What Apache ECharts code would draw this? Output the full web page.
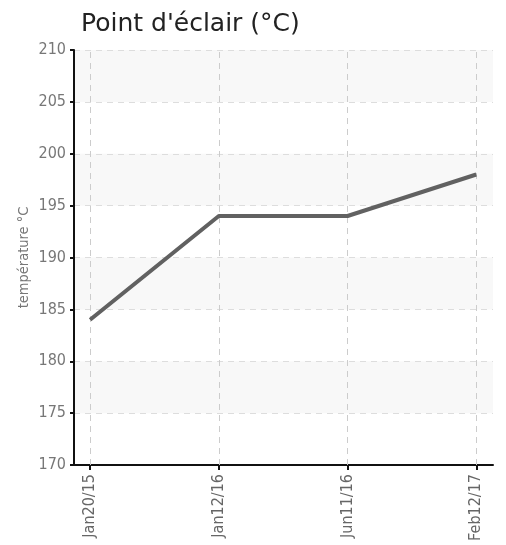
<!DOCTYPE html>
<html><head><meta charset="utf-8">
<script src="https://cdn.jsdelivr.net/npm/echarts@6/dist/echarts.min.js"></script>
<style>html,body{margin:0;padding:0;background:#fff}#c{width:506px;height:545px}</style>
</head><body><div id="c"></div>
<script>
const titleText = "Point d'éclair (°C)";
const yAxisName = "température °C";
const categories = ["Jan20/15", "Jan12/16", "Jun11/16", "Feb12/17"];
const values = [184, 194, 194, 198];
const yMin = 170, yMax = 210, yStep = 5;

const idx = categories.map((c, i) => i);
const font = "'Liberation Sans Narrow', 'DejaVu Sans Condensed', sans-serif";
const chart = echarts.init(document.getElementById('c'), null, {renderer: 'canvas'});
chart.setOption({
  animation: false,
  title: {text: titleText, left: 76, top: 7,
    textStyle: {fontFamily: 'DejaVu Sans', fontSize: 25, fontWeight: 'normal', color: '#222'}},
  grid: {left: 74, right: 13, top: 50, bottom: 80},
  xAxis: {
    type: 'value', min: -0.125, max: 3.13,
    axisLine: {onZero: false, lineStyle: {color: '#111', width: 2}},
    axisTick: {show: true, customValues: idx, length: 5, lineStyle: {color: '#111', width: 2}},
    axisLabel: {customValues: idx, rotate: 90, margin: 9, color: '#666', fontSize: 16, fontFamily: font,
      formatter: v => categories[Math.round(v)]},
    splitLine: {show: false}
  },
  yAxis: {
    type: 'value', min: yMin, max: yMax, interval: yStep,
    name: yAxisName, nameLocation: 'middle', nameGap: 42, nameRotate: 90, nameMoveOverlap: false,
    nameTextStyle: {color: '#777', fontSize: 14.5, fontFamily: font},
    axisLine: {show: true, onZero: false, lineStyle: {color: '#111', width: 2}},
    axisTick: {show: true, length: 4, lineStyle: {color: '#111', width: 2}},
    axisLabel: {color: '#777', fontSize: 16, fontFamily: font, margin: 8},
    splitLine: {show: true, lineStyle: {color: '#ddd', type: [6, 5], width: 1}},
    splitArea: {show: true, areaStyle: {color: ['rgba(255,255,255,0)', '#f8f8f8']}}
  },
  series: [{
    type: 'line',
    data: idx.map(i => [i, values[i]]),
    symbol: 'none',
    lineStyle: {color: '#616161', width: 4},
    z: 5,
    markLine: {
      silent: true, symbol: 'none', label: {show: false},
      lineStyle: {color: '#ccc', type: [6, 5], width: 1},
      data: idx.map(i => ({xAxis: i}))
    }
  }]
});
</script></body></html>
